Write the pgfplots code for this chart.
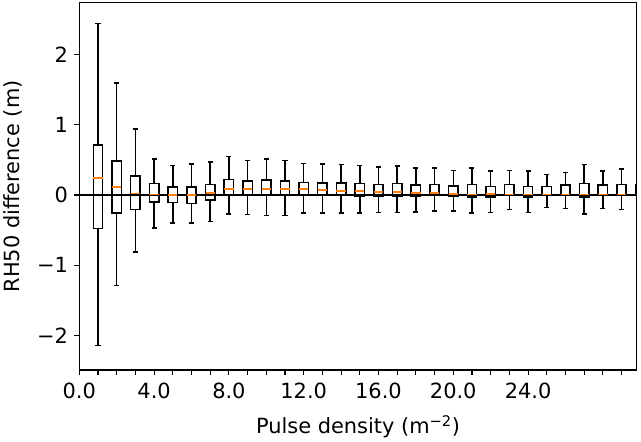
\documentclass[border=0pt]{standalone}
\usepackage{fontspec}
\setmainfont{DejaVu Sans}
\usepackage{pgfplots}
\usepackage{pgfplotstable}
\usepgfplotslibrary{statistics}
\pgfplotsset{compat=1.18}
\definecolor{mplorange}{HTML}{FF7F0E}

% RH50 difference per pulse density class: whiskers, quartiles, median
\pgfplotstableread{
pos lw lq med uq uw
1 -2.14 -0.48 0.24 0.71 2.44
2 -1.29 -0.26 0.11 0.48 1.59
3 -0.81 -0.21 0.02 0.27 0.94
4 -0.47 -0.10 0.01 0.16 0.51
5 -0.40 -0.11 0.00 0.11 0.42
6 -0.40 -0.12 0.00 0.11 0.44
7 -0.38 -0.07 0.03 0.15 0.47
8 -0.27 0.00 0.085 0.22 0.55
9 -0.28 -0.01 0.085 0.20 0.49
10 -0.29 0.00 0.085 0.21 0.51
11 -0.29 0.00 0.085 0.20 0.49
12 -0.26 0.00 0.085 0.18 0.45
13 -0.26 -0.01 0.07 0.17 0.44
14 -0.26 -0.01 0.057 0.17 0.43
15 -0.26 -0.02 0.057 0.16 0.42
16 -0.25 -0.02 0.043 0.15 0.40
17 -0.25 -0.015 0.043 0.16 0.41
18 -0.24 -0.02 0.03 0.14 0.38
19 -0.23 -0.01 0.03 0.15 0.38
20 -0.23 -0.02 0.014 0.13 0.35
21 -0.26 -0.03 0.01 0.15 0.38
22 -0.25 -0.03 0.015 0.12 0.34
23 -0.21 0.00 0.01 0.15 0.35
24 -0.25 -0.03 0.01 0.12 0.34
25 -0.18 0.00 0.01 0.12 0.29
26 -0.195 0.00 0.01 0.14 0.32
27 -0.27 -0.03 0.01 0.16 0.43
28 -0.19 0.00 0.01 0.14 0.34
29 -0.21 0.00 0.01 0.15 0.37
30 -0.20 0.00 0.01 0.14 0.36
}\rhdata

\begin{document}
\begin{tikzpicture}
\begin{axis}[
  name=ax,
  scale only axis,
  width=557.4bp, height=367.3bp,
  xmin=0, xmax=29.81,
  ymin=-2.49, ymax=2.735,
  boxplot/draw direction=y,
  xtick={0,4,8,12,16,20,24},
  xticklabels={0.0,4.0,8.0,12.0,16.0,20.0,24.0},
  minor xtick={0,...,29},
  ytick={-2,-1,0,1,2},
  yticklabels={−2,−1,0,1,2},
  tick pos=left,
  tick align=outside,
  major tick length=4.9bp,
  minor tick length=4.9bp,
  minor tick style={black, line width=1.1bp},
  major tick style={black, line width=1.1bp},
  axis line style={black, line width=1.1bp},
  tick label style={font=\fontsize{21}{25}\selectfont},
  xticklabel style={yshift=-5bp},
  yticklabel style={xshift=-3bp},
  label style={font=\fontsize{21}{25}\selectfont},
  xlabel={Pulse density (m\textsuperscript{−2})},
  ylabel={RH50 difference (m)},
  xlabel style={at={(axis description cs:0.5,-0.155)}, anchor=center},
  ylabel style={at={(axis description cs:-0.1198,0.5)}, anchor=center},
]
\addplot[black, line width=1.5bp] coordinates {(0,0) (31,0)};
\pgfplotsinvokeforeach{0,...,29}{
  \pgfplotstablegetelem{#1}{lw}\of\rhdata \let\vlw\pgfplotsretval
  \pgfplotstablegetelem{#1}{lq}\of\rhdata \let\vlq\pgfplotsretval
  \pgfplotstablegetelem{#1}{med}\of\rhdata \let\vmed\pgfplotsretval
  \pgfplotstablegetelem{#1}{uq}\of\rhdata \let\vuq\pgfplotsretval
  \pgfplotstablegetelem{#1}{uw}\of\rhdata \let\vuw\pgfplotsretval
  \edef\doplot{\noexpand\addplot[black, line width=1.5bp,
    boxplot prepared={draw position=\the\numexpr#1+1\relax,
      lower whisker=\vlw, lower quartile=\vlq, median=\vmed,
      upper quartile=\vuq, upper whisker=\vuw,
      box extend=0.5, whisker extend=0.27,
      every median/.style={draw=mplorange, line width=1.5bp}},
  ] coordinates {};}
  \doplot
}
\end{axis}
\pgfresetboundingbox
\useasboundingbox ([xshift=-79.3bp,yshift=-72bp]ax.south west) rectangle ([xshift=4.3bp,yshift=2.7bp]ax.north east);
\end{tikzpicture}
\end{document}
